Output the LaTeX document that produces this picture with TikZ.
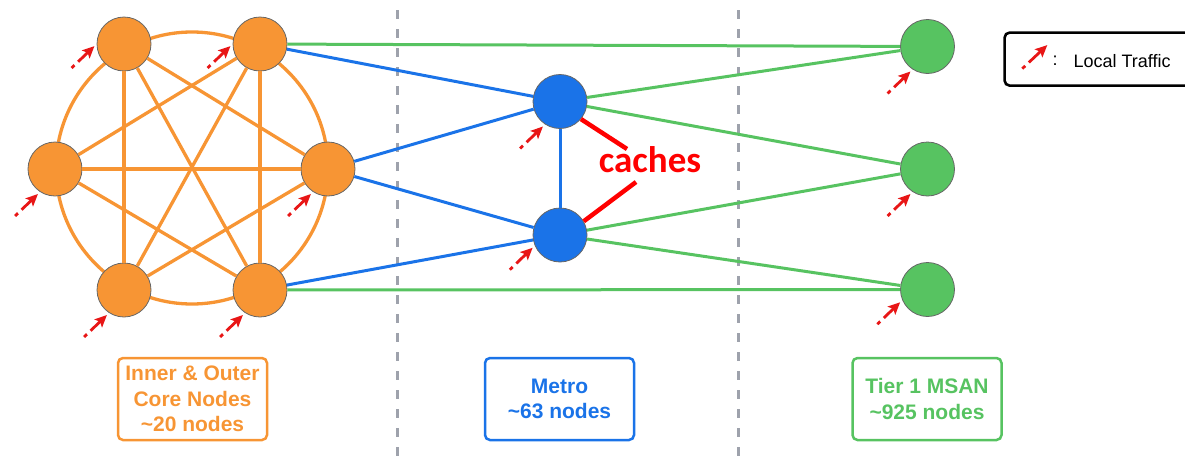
\documentclass[tikz,border=0pt]{standalone}
\usepackage{fontspec}
\setmainfont{Liberation Sans}
\newfontfamily\cachefont{Carlito}
\usepackage{tikz}
\usetikzlibrary{arrows.meta,calc}
\definecolor{coreorange}{RGB}{247,149,52}
\definecolor{metroblue}{RGB}{26,115,232}
\definecolor{msangreen}{RGB}{87,195,97}
\definecolor{sepgray}{RGB}{158,162,172}
\definecolor{trafficred}{RGB}{232,22,22}
\tikzstyle{corenode}=[circle, draw=black!60, line width=0.8pt, fill=coreorange, minimum size=54pt, inner sep=0pt]
\tikzstyle{metronode}=[corenode, fill=metroblue]
\tikzstyle{msannode}=[corenode, fill=msangreen]
\tikzstyle{corelink}=[line width=3.3pt, draw=coreorange]
\tikzstyle{metrolink}=[line width=3pt, draw=metroblue]
\tikzstyle{msanlink}=[line width=3pt, draw=msangreen]
\tikzstyle{separator}=[line width=3pt, draw=sepgray, dash pattern=on 9pt off 10pt, dash phase=-10pt]
\tikzstyle{traffic}=[line width=2.8pt, draw=trafficred, dash pattern=on 4pt off 5pt on 30pt, -{Stealth[length=12pt,width=11pt,inset=2.5pt]}]
\tikzstyle{cacheline}=[line width=4.5pt, draw=red]
\tikzstyle{tierbox}=[draw, rounded corners=5pt, line width=2.5pt, minimum width=149pt, minimum height=82pt, align=center, font=\fontsize{21}{25.5}\selectfont\bfseries]
\newcommand{\localtraffic}[2]{
	\draw[traffic, shorten >=3pt] ($(#1.#2)+(-25,24)$) -- (#1.#2);
}

\begin{document}
\begin{tikzpicture}[x=1pt, y=-1pt]
	\useasboundingbox (0,0) rectangle (1185,458);
	\coordinate (sepA) at (397,0);
	\coordinate (sepB) at (738,0);
	\draw[separator] (sepA) -- ++(0,458);
	\draw[separator] (sepB) -- ++(0,458);

	\coordinate (hub) at (192,168);
	\draw[corelink] (hub) circle (136pt);

	\node[corenode] (ctl) at (124,44) {};
	\node[corenode] (ctr) at (260,44) {};
	\node[corenode] (cl) at (55,169) {};
	\node[corenode] (cr) at (328,169) {};
	\node[corenode] (cbl) at (124,290) {};
	\node[corenode] (cbr) at (260,290) {};
	\node[metronode] (mtop) at (560,101.5) {};
	\node[metronode] (mbot) at (560,235) {};
	\node[msannode] (ms1) at (927.5,46.5) {};
	\node[msannode] (ms2) at (927.5,169) {};
	\node[msannode] (ms3) at (927.5,289.5) {};

	\foreach \a/\b in {ctl/cr, ctl/cbl, ctl/cbr, ctr/cl, ctr/cbr, ctr/cbl, cl/cr, cl/cbr, cr/cbl}
		\draw[corelink] (\a) -- (\b);
	\foreach \a/\b in {ctr/mtop, cr/mtop, cr/mbot, cbr/mbot, mtop/mbot}
		\draw[metrolink] (\a) -- (\b);
	\foreach \a/\b in {ctr/ms1, cbr/ms3, mtop/ms1, mtop/ms2, mbot/ms2, mbot/ms3}
		\draw[msanlink] (\a) -- (\b);

	\localtraffic{ctl}{180}
	\localtraffic{ctr}{180}
	\localtraffic{cl}{237}
	\localtraffic{cr}{237}
	\localtraffic{cbl}{237}
	\localtraffic{cbr}{237}
	\localtraffic{mtop}{237}
	\localtraffic{mbot}{203}
	\localtraffic{ms1}{237}
	\localtraffic{ms2}{237}
	\localtraffic{ms3}{203}

	\node[text=red, font=\cachefont\fontsize{37}{40}\selectfont\bfseries] (caches) at (650,160) {caches};
	\coordinate (cachetop) at (627,149);
	\coordinate (cachebot) at (636,182);
	\draw[cacheline] (mtop.-40) -- (cachetop);
	\draw[cacheline] (mbot.30) -- (cachebot);

	\node[draw, line width=2.6pt, rounded corners=5pt, minimum width=188pt, minimum height=53pt, anchor=north west] (legend) at (1003.3,31.3) {};
	\draw[traffic] ($(legend.west)+(19,9.5)$) -- ($(legend.west)+(44,-14)$);
	\node[font=\fontsize{18}{20}\selectfont] (legendcolon) at (1055,61) {:};
	\node[anchor=west, font=\fontsize{18}{20}\selectfont] (legendtext) at (1070,61) {Local Traffic};

	\node[tierbox, draw=coreorange, text=coreorange] (coretier) at (192.5,399) {Inner \& Outer\\Core Nodes\\\textasciitilde20 nodes};
	\node[tierbox, draw=metroblue, text=metroblue] (metrotier) at (559.5,399) {Metro\\\textasciitilde63 nodes};
	\node[tierbox, draw=msangreen, text=msangreen] (msantier) at (927,399) {Tier 1 MSAN\\\textasciitilde925 nodes};
\end{tikzpicture}
\end{document}
